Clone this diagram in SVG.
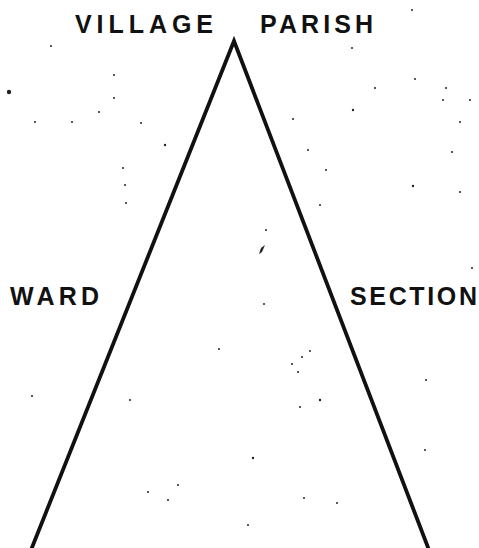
<svg xmlns="http://www.w3.org/2000/svg" width="479" height="548" viewBox="0 0 479 548">
<style>
.lbl{font-family:"Liberation Sans",Arial,sans-serif;font-weight:bold;font-size:25px;fill:#111}
.edge{stroke:#111;stroke-width:3.8;fill:none;stroke-linecap:round}
.sp{fill:#222}
</style>
<rect width="479" height="548" fill="#fff"/>
<g id="connectors">
<path class="edge" d="M31,550 L234,41 L429,550"/>
</g>
<g id="village"><text class="lbl" x="75" y="33" textLength="138" lengthAdjust="spacing">VILLAGE</text></g>
<g id="parish"><text class="lbl" x="260" y="33" textLength="113" lengthAdjust="spacing">PARISH</text></g>
<g id="ward"><text class="lbl" x="10" y="305" textLength="89" lengthAdjust="spacing">WARD</text></g>
<g id="section"><text class="lbl" x="350" y="305" textLength="127" lengthAdjust="spacing">SECTION</text></g>
<g id="speckles">
<circle class="sp" cx="9" cy="92" r="2.2"/>
<circle class="sp" cx="412" cy="10" r="1"/>
<circle class="sp" cx="51" cy="46" r="1"/>
<circle class="sp" cx="352" cy="48" r="1"/>
<circle class="sp" cx="114" cy="75" r="1"/>
<circle class="sp" cx="415" cy="79" r="1"/>
<circle class="sp" cx="375" cy="88" r="1"/>
<circle class="sp" cx="446" cy="88" r="1"/>
<circle class="sp" cx="114" cy="98" r="1"/>
<circle class="sp" cx="443" cy="100" r="1"/>
<circle class="sp" cx="470" cy="100" r="1"/>
<circle class="sp" cx="353" cy="110" r="1.2"/>
<circle class="sp" cx="99" cy="112" r="1"/>
<circle class="sp" cx="293" cy="119" r="1"/>
<circle class="sp" cx="35" cy="122" r="1"/>
<circle class="sp" cx="72" cy="122" r="1"/>
<circle class="sp" cx="141" cy="123" r="1"/>
<circle class="sp" cx="460" cy="122" r="1"/>
<circle class="sp" cx="165" cy="145" r="1.2"/>
<circle class="sp" cx="308" cy="150" r="1"/>
<circle class="sp" cx="452" cy="152" r="1"/>
<circle class="sp" cx="123" cy="168" r="1"/>
<circle class="sp" cx="125" cy="185" r="1"/>
<circle class="sp" cx="326" cy="170" r="1"/>
<circle class="sp" cx="413" cy="186" r="1.2"/>
<circle class="sp" cx="460" cy="192" r="1"/>
<circle class="sp" cx="126" cy="203" r="1"/>
<circle class="sp" cx="320" cy="205" r="1"/>
<circle class="sp" cx="266" cy="230" r="1"/>
<path class="sp" d="M265,245 L262,252 L259,254 L261,248 Z"/>
<circle class="sp" cx="472" cy="268" r="1"/>
<circle class="sp" cx="264" cy="304" r="1"/>
<circle class="sp" cx="219" cy="349" r="1"/>
<circle class="sp" cx="310" cy="351" r="1"/>
<circle class="sp" cx="302" cy="357" r="1"/>
<circle class="sp" cx="292" cy="364" r="1"/>
<circle class="sp" cx="298" cy="372" r="1"/>
<circle class="sp" cx="426" cy="380" r="1"/>
<circle class="sp" cx="130" cy="400" r="1"/>
<circle class="sp" cx="32" cy="396" r="1"/>
<circle class="sp" cx="300" cy="407" r="1"/>
<circle class="sp" cx="320" cy="400" r="1.2"/>
<circle class="sp" cx="253" cy="458" r="1.2"/>
<circle class="sp" cx="148" cy="492" r="1"/>
<circle class="sp" cx="178" cy="485" r="1"/>
<circle class="sp" cx="168" cy="500" r="1"/>
<circle class="sp" cx="304" cy="498" r="1"/>
<circle class="sp" cx="337" cy="503" r="1"/>
<circle class="sp" cx="248" cy="525" r="1"/>
<circle class="sp" cx="425" cy="450" r="1"/>
</g>
</svg>
